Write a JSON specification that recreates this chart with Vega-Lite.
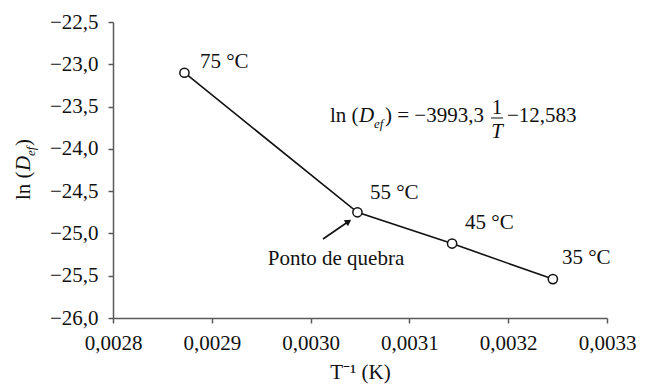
{
  "$schema": "https://vega.github.io/schema/vega-lite/v6.json",
  "width": 494,
  "height": 296,
  "autosize": {"type": "none"},
  "padding": {"left": 113, "top": 22, "right": 42, "bottom": 66},
  "background": "white",
  "config": {
    "view": {"stroke": null},
    "font": "Liberation Serif",
    "axis": {
      "grid": false,
      "domainColor": "#5a5a5a",
      "domainWidth": 1.5,
      "tickColor": "#5a5a5a",
      "tickWidth": 1.5,
      "tickSize": 5,
      "labelFont": "Liberation Serif",
      "labelFontSize": 21,
      "labelColor": "#111",
      "labelFlush": false,
      "labelOverlap": false,
      "titleFont": "Liberation Serif",
      "titleFontSize": 21,
      "titleFontWeight": "normal",
      "titleColor": "#111"
    }
  },
  "datasets": {
    "pts": [
      {"x": 0.0028723, "y": -23.10, "label": "75 °C", "lx": 0.002888, "ly": -22.973},
      {"x": 0.0030474, "y": -24.75, "label": "55 °C", "lx": 0.003060, "ly": -24.522},
      {"x": 0.0031432, "y": -25.12, "label": "45 °C", "lx": 0.0031563, "ly": -24.877},
      {"x": 0.0032452, "y": -25.54, "label": "35 °C", "lx": 0.0032544, "ly": -25.290}
    ],
    "eqRoman": [
      {"t": "ln (", "x": 0.00301964, "y": -23.6824},
      {"t": ") = −3993,3", "x": 0.00307530, "y": -23.6824},
      {"t": "−12,583", "x": 0.00319879, "y": -23.6824}
    ],
    "eqItalic": [{"t": "D", "x": 0.00304899, "y": -23.6824}],
    "eqSub": [{"t": "ef", "x": 0.00306417, "y": -23.7534}],
    "fracNum": [{"t": "1", "x": 0.00318867, "y": -23.5878}],
    "fracDen": [{"t": "T", "x": 0.00318867, "y": -23.8716}],
    "fracBar": [{"x": 0.00318259, "x2": 0.00319474, "y": -23.6351}],
    "yTitleRoman": [
      {"t": "ln (", "x": 0.00271599, "y": -24.6047},
      {"t": ")", "x": 0.00271599, "y": -23.9662}
    ],
    "yTitleItalic": [{"t": "D", "x": 0.00271599, "y": -24.2618}],
    "yTitleSub": [{"t": "ef", "x": 0.00272105, "y": -24.0845}],
    "arrow": [{"x": 0.00301255, "y": -25.0659, "x2": 0.00303836, "y2": -24.8589}],
    "note": [{"t": "Ponto de quebra", "x": 0.0030257, "y": -25.302}]
  },
  "layer": [
    {
      "data": {"name": "pts"},
      "mark": {"type": "line", "color": "#111", "strokeWidth": 1.6},
      "encoding": {
        "x": {
          "field": "x", "type": "quantitative",
          "scale": {"domain": [0.0028, 0.0033], "nice": false, "zero": false},
          "axis": {
            "values": [0.0028, 0.0029, 0.003, 0.0031, 0.0032, 0.0033],
            "labelExpr": "replace(format(datum.value, '.4f'), '.', ',')",
            "labelPadding": 9,
            "title": "T⁻¹ (K)",
            "titlePadding": 8
          }
        },
        "y": {
          "field": "y", "type": "quantitative",
          "scale": {"domain": [-26, -22.5], "nice": false, "zero": false},
          "axis": {
            "values": [-26, -25.5, -25, -24.5, -24, -23.5, -23, -22.5],
            "labelExpr": "replace(format(datum.value, '.1f'), '.', ',')",
            "labelPadding": 10,
            "title": null
          }
        }
      }
    },
    {
      "data": {"name": "pts"},
      "mark": {"type": "point", "shape": "circle", "filled": true, "fill": "white", "stroke": "#111", "strokeWidth": 1.5, "size": 85, "opacity": 1},
      "encoding": {
        "x": {"field": "x", "type": "quantitative"},
        "y": {"field": "y", "type": "quantitative"}
      }
    },
    {
      "data": {"name": "pts"},
      "mark": {"type": "text", "align": "left", "baseline": "middle", "fontSize": 21, "font": "Liberation Serif", "color": "#111"},
      "encoding": {
        "x": {"field": "lx", "type": "quantitative"},
        "y": {"field": "ly", "type": "quantitative"},
        "text": {"field": "label"}
      }
    },
    {
      "data": {"name": "arrow"},
      "mark": {"type": "rule", "color": "#111", "strokeWidth": 1.6},
      "encoding": {
        "x": {"field": "x", "type": "quantitative"},
        "y": {"field": "y", "type": "quantitative"},
        "x2": {"field": "x2"},
        "y2": {"field": "y2"}
      }
    },
    {
      "data": {"name": "arrow"},
      "mark": {"type": "point", "shape": "triangle-up", "filled": true, "color": "#111", "size": 55, "angle": 55, "opacity": 1},
      "encoding": {
        "x": {"field": "x2", "type": "quantitative"},
        "y": {"field": "y2", "type": "quantitative"}
      }
    },
    {
      "data": {"name": "note"},
      "mark": {"type": "text", "align": "center", "baseline": "middle", "fontSize": 21, "font": "Liberation Serif", "color": "#111"},
      "encoding": {
        "x": {"field": "x", "type": "quantitative"},
        "y": {"field": "y", "type": "quantitative"},
        "text": {"field": "t"}
      }
    },
    {
      "data": {"name": "eqRoman"},
      "mark": {"type": "text", "align": "left", "baseline": "alphabetic", "fontSize": 21, "font": "Liberation Serif", "color": "#111"},
      "encoding": {
        "x": {"field": "x", "type": "quantitative"},
        "y": {"field": "y", "type": "quantitative"},
        "text": {"field": "t"}
      }
    },
    {
      "data": {"name": "eqItalic"},
      "mark": {"type": "text", "align": "left", "baseline": "alphabetic", "fontSize": 21, "fontStyle": "italic", "font": "Liberation Serif", "color": "#111"},
      "encoding": {
        "x": {"field": "x", "type": "quantitative"},
        "y": {"field": "y", "type": "quantitative"},
        "text": {"field": "t"}
      }
    },
    {
      "data": {"name": "eqSub"},
      "mark": {"type": "text", "align": "left", "baseline": "alphabetic", "fontSize": 13, "fontStyle": "italic", "font": "Liberation Serif", "color": "#111"},
      "encoding": {
        "x": {"field": "x", "type": "quantitative"},
        "y": {"field": "y", "type": "quantitative"},
        "text": {"field": "t"}
      }
    },
    {
      "data": {"name": "fracNum"},
      "mark": {"type": "text", "align": "center", "baseline": "alphabetic", "fontSize": 21, "font": "Liberation Serif", "color": "#111"},
      "encoding": {
        "x": {"field": "x", "type": "quantitative"},
        "y": {"field": "y", "type": "quantitative"},
        "text": {"field": "t"}
      }
    },
    {
      "data": {"name": "fracDen"},
      "mark": {"type": "text", "align": "center", "baseline": "alphabetic", "fontSize": 21, "fontStyle": "italic", "font": "Liberation Serif", "color": "#111"},
      "encoding": {
        "x": {"field": "x", "type": "quantitative"},
        "y": {"field": "y", "type": "quantitative"},
        "text": {"field": "t"}
      }
    },
    {
      "data": {"name": "fracBar"},
      "mark": {"type": "rule", "color": "#111", "strokeWidth": 1},
      "encoding": {
        "x": {"field": "x", "type": "quantitative"},
        "x2": {"field": "x2"},
        "y": {"field": "y", "type": "quantitative"}
      }
    },
    {
      "data": {"name": "yTitleRoman"},
      "mark": {"type": "text", "align": "left", "baseline": "alphabetic", "angle": 270, "fontSize": 21, "font": "Liberation Serif", "color": "#111"},
      "encoding": {
        "x": {"field": "x", "type": "quantitative"},
        "y": {"field": "y", "type": "quantitative"},
        "text": {"field": "t"}
      }
    },
    {
      "data": {"name": "yTitleItalic"},
      "mark": {"type": "text", "align": "left", "baseline": "alphabetic", "angle": 270, "fontSize": 21, "fontStyle": "italic", "font": "Liberation Serif", "color": "#111"},
      "encoding": {
        "x": {"field": "x", "type": "quantitative"},
        "y": {"field": "y", "type": "quantitative"},
        "text": {"field": "t"}
      }
    },
    {
      "data": {"name": "yTitleSub"},
      "mark": {"type": "text", "align": "left", "baseline": "alphabetic", "angle": 270, "fontSize": 13, "fontStyle": "italic", "font": "Liberation Serif", "color": "#111"},
      "encoding": {
        "x": {"field": "x", "type": "quantitative"},
        "y": {"field": "y", "type": "quantitative"},
        "text": {"field": "t"}
      }
    }
  ]
}
